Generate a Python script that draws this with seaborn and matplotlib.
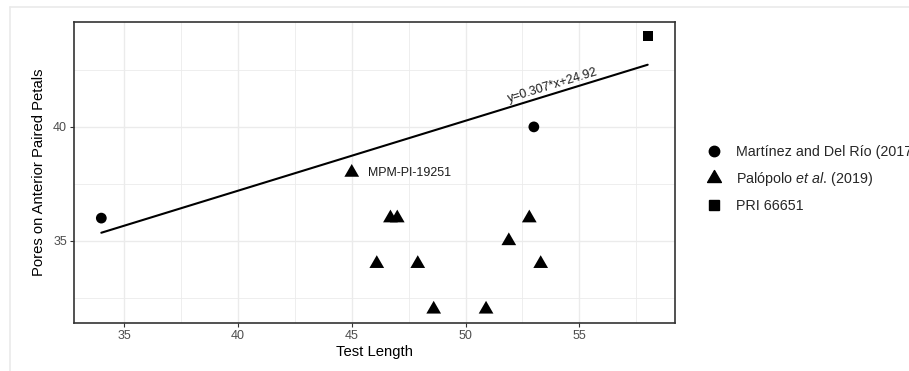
import numpy as np
import pandas as pd
import matplotlib
matplotlib.use("Agg")
import matplotlib.pyplot as plt
from matplotlib.lines import Line2D
from matplotlib.path import Path
import seaborn as sns

# ---- data ----
martinez_x = [34.0, 53.0]
martinez_y = [36, 40]
palopolo_x = [45.0, 46.1, 46.7, 47.0, 47.9, 48.6, 50.9, 51.9, 52.8, 53.3]
palopolo_y = [38, 34, 36, 36, 34, 32, 32, 35, 36, 34]
pri_x = [58.0]
pri_y = [44]
groups = ["Martínez and Del Río (2017)", "Palópolo $\\it{et\\ al.}\\,$(2019)", "PRI 66651"]
fit_slope = 0.307
fit_intercept = 24.92
fit_x = [34.0, 58.0]
eq_label = "y=0.307*x+24.92"
point_label = "MPM-PI-19251"
x_ticks = [35, 40, 45, 50, 55]
y_ticks = [35, 40]

df = pd.DataFrame({
    "x": martinez_x + palopolo_x + pri_x,
    "y": martinez_y + palopolo_y + pri_y,
    "group": [groups[0]] * len(martinez_x) + [groups[1]] * len(palopolo_x) + [groups[2]] * len(pri_x),
})
fit_df = pd.DataFrame({"x": fit_x, "y": [fit_slope * v + fit_intercept for v in fit_x]})

sns.set_style("white")
plt.rcParams["font.family"] = ["Liberation Sans", "DejaVu Sans"]
plt.rcParams["mathtext.fontset"] = "custom"
plt.rcParams["mathtext.it"] = "Liberation Sans:italic"
plt.rcParams["mathtext.rm"] = "Liberation Sans"

fig = plt.figure(figsize=(9.09, 3.71), dpi=100)
ax = fig.add_axes([74 / 909, 1 - 323 / 371, (675 - 74) / 909, (323 - 22) / 371])

# equilateral triangle marker
tri = Path([(0, 1.0), (-0.866, -0.5), (0.866, -0.5), (0, 1.0)],
           [Path.MOVETO, Path.LINETO, Path.LINETO, Path.CLOSEPOLY])
markers = {groups[0]: "o", groups[1]: tri, groups[2]: "s"}
sizes = {groups[0]: 60, groups[1]: 150, groups[2]: 55}

for g in groups:
    sub = df[df["group"] == g]
    sns.scatterplot(data=sub, x="x", y="y", marker=markers[g], s=sizes[g],
                    color="black", edgecolor="none", linewidth=0, ax=ax, zorder=3)

sns.lineplot(data=fit_df, x="x", y="y", color="black", lw=1.5, ax=ax, zorder=2)

ax.set_xlim(32.8, 59.2)
ax.set_ylim(31.4, 44.6)
ax.set_xticks(x_ticks)
ax.set_yticks(y_ticks)
ax.set_xticks([37.5, 42.5, 47.5, 52.5, 57.5], minor=True)
ax.set_yticks([32.5, 37.5, 42.5], minor=True)
ax.grid(True, which="major", color="#EBEBEB", lw=1.0, zorder=0)
ax.grid(True, which="minor", color="#EBEBEB", lw=0.6, zorder=0)
ax.set_axisbelow(True)
ax.tick_params(axis="both", which="major", length=3, width=0.8, color="#333333",
               labelsize=9, labelcolor="#4D4D4D", pad=2, direction="out")
ax.tick_params(axis="both", which="minor", length=0)
ax.tick_params(bottom=True, left=True)
for sp in ax.spines.values():
    sp.set_color("#333333")
    sp.set_linewidth(1.2)
    sp.set_visible(True)

ax.set_xlabel("Test Length", fontsize=10.7, color="black", labelpad=2)
ax.set_ylabel("Pores on Anterior Paired Petals", fontsize=10.7, color="black", labelpad=5)

# annotations
ax.text(45.7, 38.0, point_label, fontsize=8.9, color="#1a1a1a", va="center", ha="left")
ang = np.degrees(np.arctan(fit_slope))
ex = 53.9
ax.text(ex, fit_slope * ex + fit_intercept + 0.1, eq_label, fontsize=8.9, color="#1a1a1a",
        rotation=ang, rotation_mode="anchor", ha="center", va="bottom")

# legend
handles = [
    Line2D([], [], marker="o", color="black", linestyle="none", markersize=7.5),
    Line2D([], [], marker=tri, color="black", linestyle="none", markersize=11.5),
    Line2D([], [], marker="s", color="black", linestyle="none", markersize=7),
]
leg = fig.legend(handles, groups, loc="center left", bbox_to_anchor=(700 / 909, 1 - 179 / 371),
                 frameon=False, fontsize=10.3, handletextpad=0.95, labelspacing=0.8,
                 borderaxespad=0, handlelength=1.2)

# outer light frame
fig.add_artist(Line2D([10 / 909, 1.0], [1 - 7 / 371, 1 - 7 / 371], transform=fig.transFigure,
                      color="#EAEAEA", lw=1.2))
fig.add_artist(Line2D([10 / 909, 10 / 909], [0, 1 - 7 / 371], transform=fig.transFigure,
                      color="#EAEAEA", lw=1.2))

fig.savefig("out.png", dpi=100)
